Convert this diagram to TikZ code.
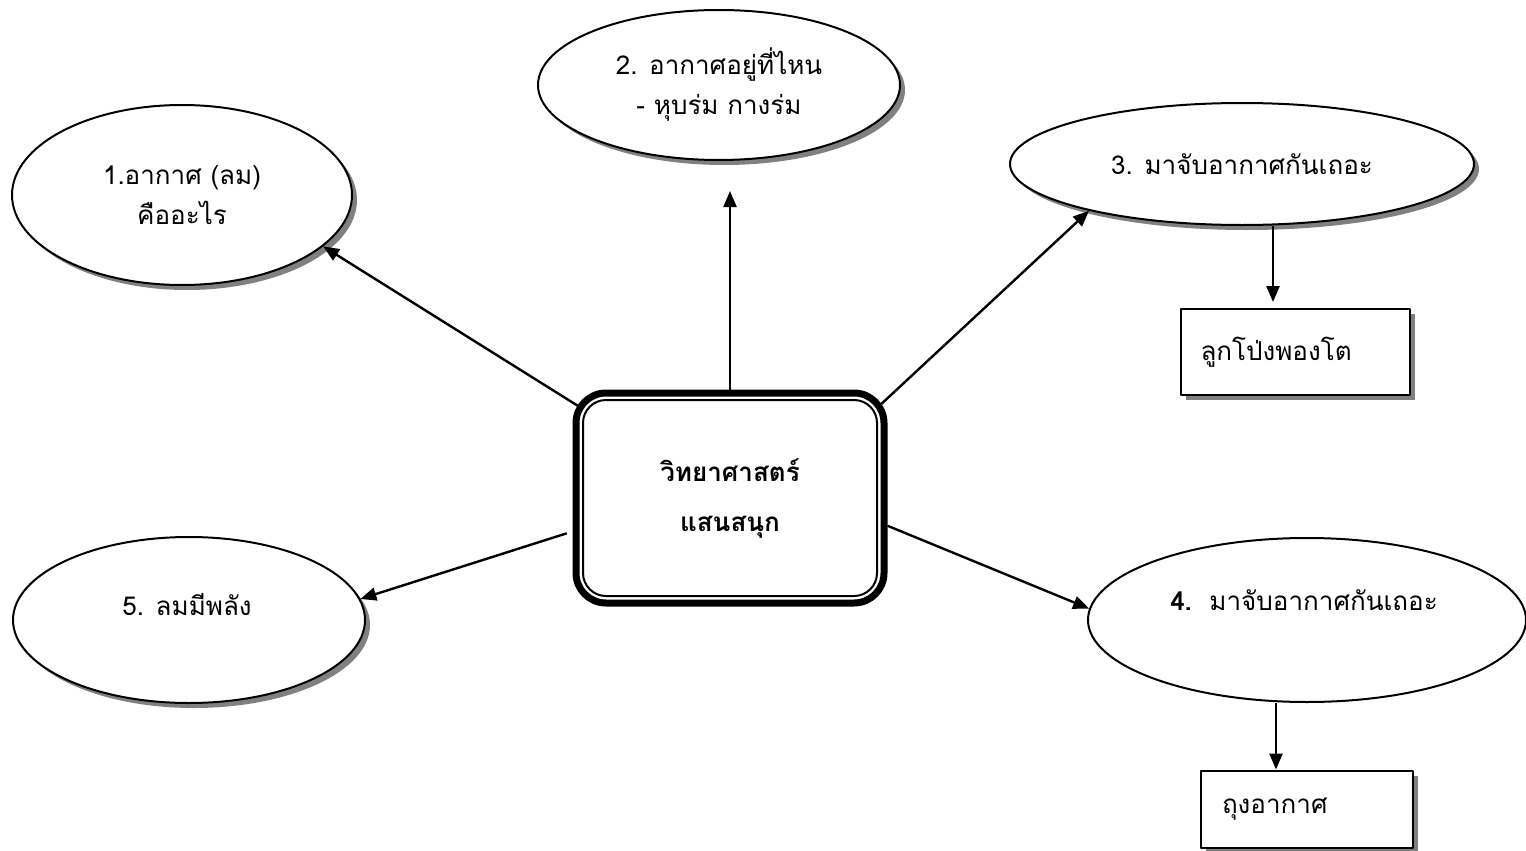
\documentclass[tikz,border=0pt]{standalone}
\usepackage{fontspec}
\setmainfont[Script=Thai]{Loma}
\usetikzlibrary{shapes.geometric,shadows,arrows.meta}
\begin{document}
\begin{tikzpicture}[x=1pt,y=-1pt,line join=round,>={Triangle[length=16pt,width=13pt]},font=\fontsize{26}{40}\selectfont]
	\tikzset{bubble/.style={ellipse,draw,line width=2pt,fill=white,inner sep=0pt,align=center,
			drop shadow={shadow xshift=5pt,shadow yshift=-5pt,fill=black!50,opacity=1}},
		card/.style={rectangle,draw,line width=2pt,fill=white,inner ysep=0pt,align=left,
			drop shadow={shadow xshift=5pt,shadow yshift=-5pt,fill=black!50,opacity=1}},
		link/.style={->,line width=2.4pt}}
	\useasboundingbox (0,0) rectangle (1526,851);
	\node[rectangle,draw,line width=7pt,rounded corners=30pt,minimum width=308pt,minimum height=210pt,align=center,font=\fontsize{26}{50}\selectfont\bfseries] (centre) at (730,498) {วิทยาศาสตร์\\แสนสนุก};
	\node[rectangle,draw,line width=2pt,rounded corners=23pt,minimum width=294pt,minimum height=196pt] (centre inner) at (centre.center) {};
	\node[bubble,minimum width=340pt,minimum height=180pt] (e1) at (182,195) {1.อากาศ (ลม)\\คืออะไร};
	\node[bubble,minimum width=362pt,minimum height=150pt] (e2) at (719,85) {2. อากาศอยู่ที่ไหน\\- หุบร่ม กางร่ม};
	\node[bubble,minimum width=464pt,minimum height=122pt] (e3) at (1242,164) {3. มาจับอากาศกันเถอะ};
	\node[ellipse,draw,line width=2pt,fill=white,minimum width=438pt,minimum height=164pt] (e4) at (1307,620) {};
	\node (t4) at (1304,600) {\textbf{4.}\ \ มาจับอากาศกันเถอะ};
	\node[bubble,minimum width=352pt,minimum height=166pt] (e5) at (189,620) {};
	\node (t5) at (187,605) {5. ลมมีพลัง};
	\node[card,inner xsep=20pt,text width=189pt,minimum height=86pt] (r3) at (1295,352) {ลูกโป่งพองโต};
	\node[card,inner xsep=21pt,text width=170pt,minimum height=77pt] (r4) at (1307,809) {ถุงอากาศ};
	\draw[link] ([shift={(8pt,-18pt)}]centre.north west) -- (e1.-20);
	\draw[link,shorten >=30pt] (centre.north) -- (centre.north |- e2.south);
	\draw[link] ([shift={(-10pt,-18pt)}]centre.north east) -- (e3.197);
	\draw[link] (centre.-10) -- (e4.177);
	\draw[link,shorten <=6pt] (centre.192) -- (e5.7);
	\draw[link,shorten >=6pt] ([xshift=31pt]e3.south) -- ([xshift=31pt]e3.south |- r3.north);
	\draw[link] ([xshift=-31pt]e4.south) -- ([xshift=-31pt]e4.south |- r4.north);
\end{tikzpicture}
\end{document}
